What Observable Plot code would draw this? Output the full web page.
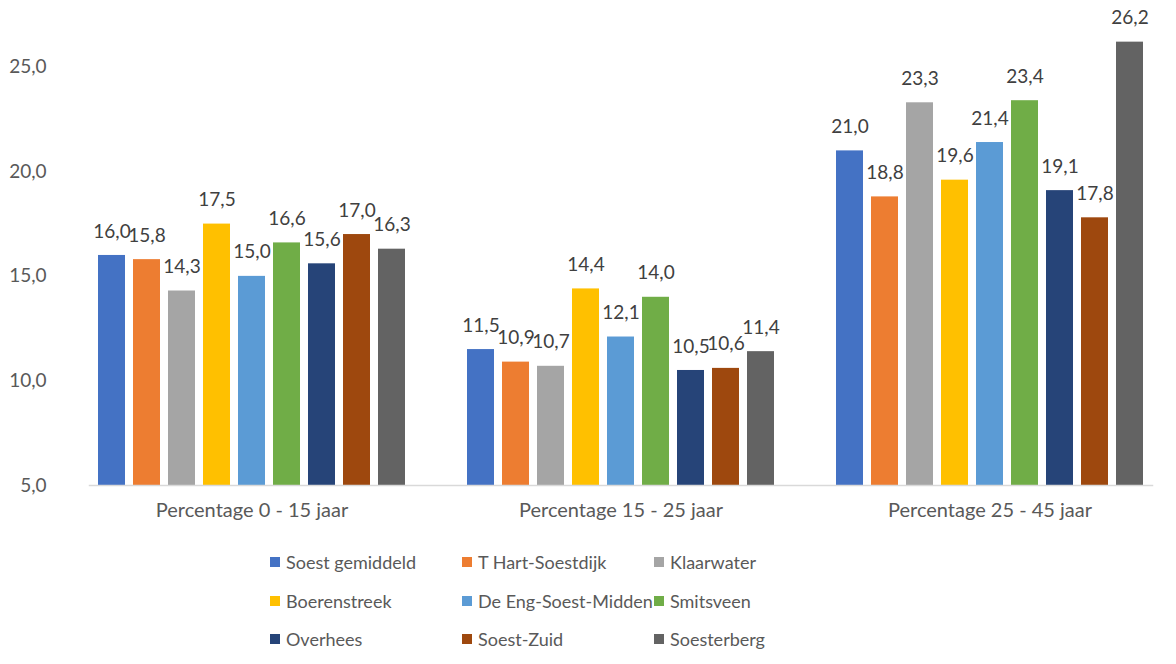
<!DOCTYPE html>
<html>
<head>
<meta charset="utf-8">
<script src="https://cdn.jsdelivr.net/npm/d3@7"></script>
<script src="https://cdn.jsdelivr.net/npm/@observablehq/plot@0.6"></script>
<style>
  html, body { margin: 0; padding: 0; background: #fff; }
  body { width: 1176px; height: 664px; overflow: hidden; font-family: Lato, "Open Sans", sans-serif; }
  #legend { position: absolute; left: 270px; top: 543px; display: grid; grid-template-columns: 192px 192px 192px; grid-auto-rows: 38.5px; font-size: 18px; color: #595959; }
  #legend .item { display: flex; align-items: center; white-space: nowrap; }
  #legend .sw { width: 10px; height: 10px; margin-right: 6px; display: inline-block; flex: none; }
</style>
</head>
<body>
<div id="chart"></div>
<div id="legend"></div>
<script>
const groups = ["Percentage 0 - 15 jaar", "Percentage 15 - 25 jaar", "Percentage 25 - 45 jaar"];
const series = ["Soest gemiddeld", "T Hart-Soestdijk", "Klaarwater", "Boerenstreek", "De Eng-Soest-Midden", "Smitsveen", "Overhees", "Soest-Zuid", "Soesterberg"];
const colors = ["#4472C4", "#ED7D31", "#A5A5A5", "#FFC000", "#5B9BD5", "#70AD47", "#264478", "#9E480E", "#636363"];
const values0_15 = [16.0, 15.8, 14.3, 17.5, 15.0, 16.6, 15.6, 17.0, 16.3];
const values15_25 = [11.5, 10.9, 10.7, 14.4, 12.1, 14.0, 10.5, 10.6, 11.4];
const values25_45 = [21.0, 18.8, 23.3, 19.6, 21.4, 23.4, 19.1, 17.8, 26.2];
const yTicks = [5, 10, 15, 20, 25];

const allValues = [values0_15, values15_25, values25_45];
const data = [];
groups.forEach((g, gi) => series.forEach((s, si) => data.push({group: g, series: s, value: allValues[gi][si]})));

const fmt = v => d3.format(".1f")(v).replace(".", ",");

const chart = Plot.plot({
  width: 1176,
  height: 530,
  marginLeft: 66,
  marginRight: 2,
  marginTop: 4,
  marginBottom: 45,
  style: {fontFamily: "Lato, 'Open Sans', sans-serif", fontSize: "19px", color: "#595959", background: "#fff"},
  fx: {domain: groups, paddingInner: 0.12, paddingOuter: 0.06, label: null},
  x: {domain: series, padding: 0.23, axis: null},
  y: {domain: [5, 28], ticks: yTicks, label: null},
  color: {domain: series, range: colors},
  marks: [
    Plot.axisY({ticks: yTicks, tickSize: 0, tickPadding: 43, tickFormat: fmt, label: null, fontSize: 19}),
    Plot.axisFx({anchor: "bottom", tickSize: 0, tickPadding: 17, label: null, fontSize: 20}),
    Plot.barY(data, {fx: "group", x: "series", y1: 5, y2: "value", fill: "series"}),
    Plot.text(data, {fx: "group", x: "series", y: "value", text: d => fmt(d.value), dy: -24, fill: "#404040", fontSize: 19}),
    Plot.frame({anchor: "bottom", facet: "super", stroke: "#d9d9d9", strokeWidth: 1.5})
  ]
});
document.getElementById("chart").appendChild(chart);

const legend = document.getElementById("legend");
series.forEach((s, i) => {
  const it = document.createElement("div");
  it.className = "item";
  const sw = document.createElement("span");
  sw.className = "sw";
  sw.style.background = colors[i];
  it.appendChild(sw);
  it.appendChild(document.createTextNode(s));
  legend.appendChild(it);
});
</script>
</body>
</html>
